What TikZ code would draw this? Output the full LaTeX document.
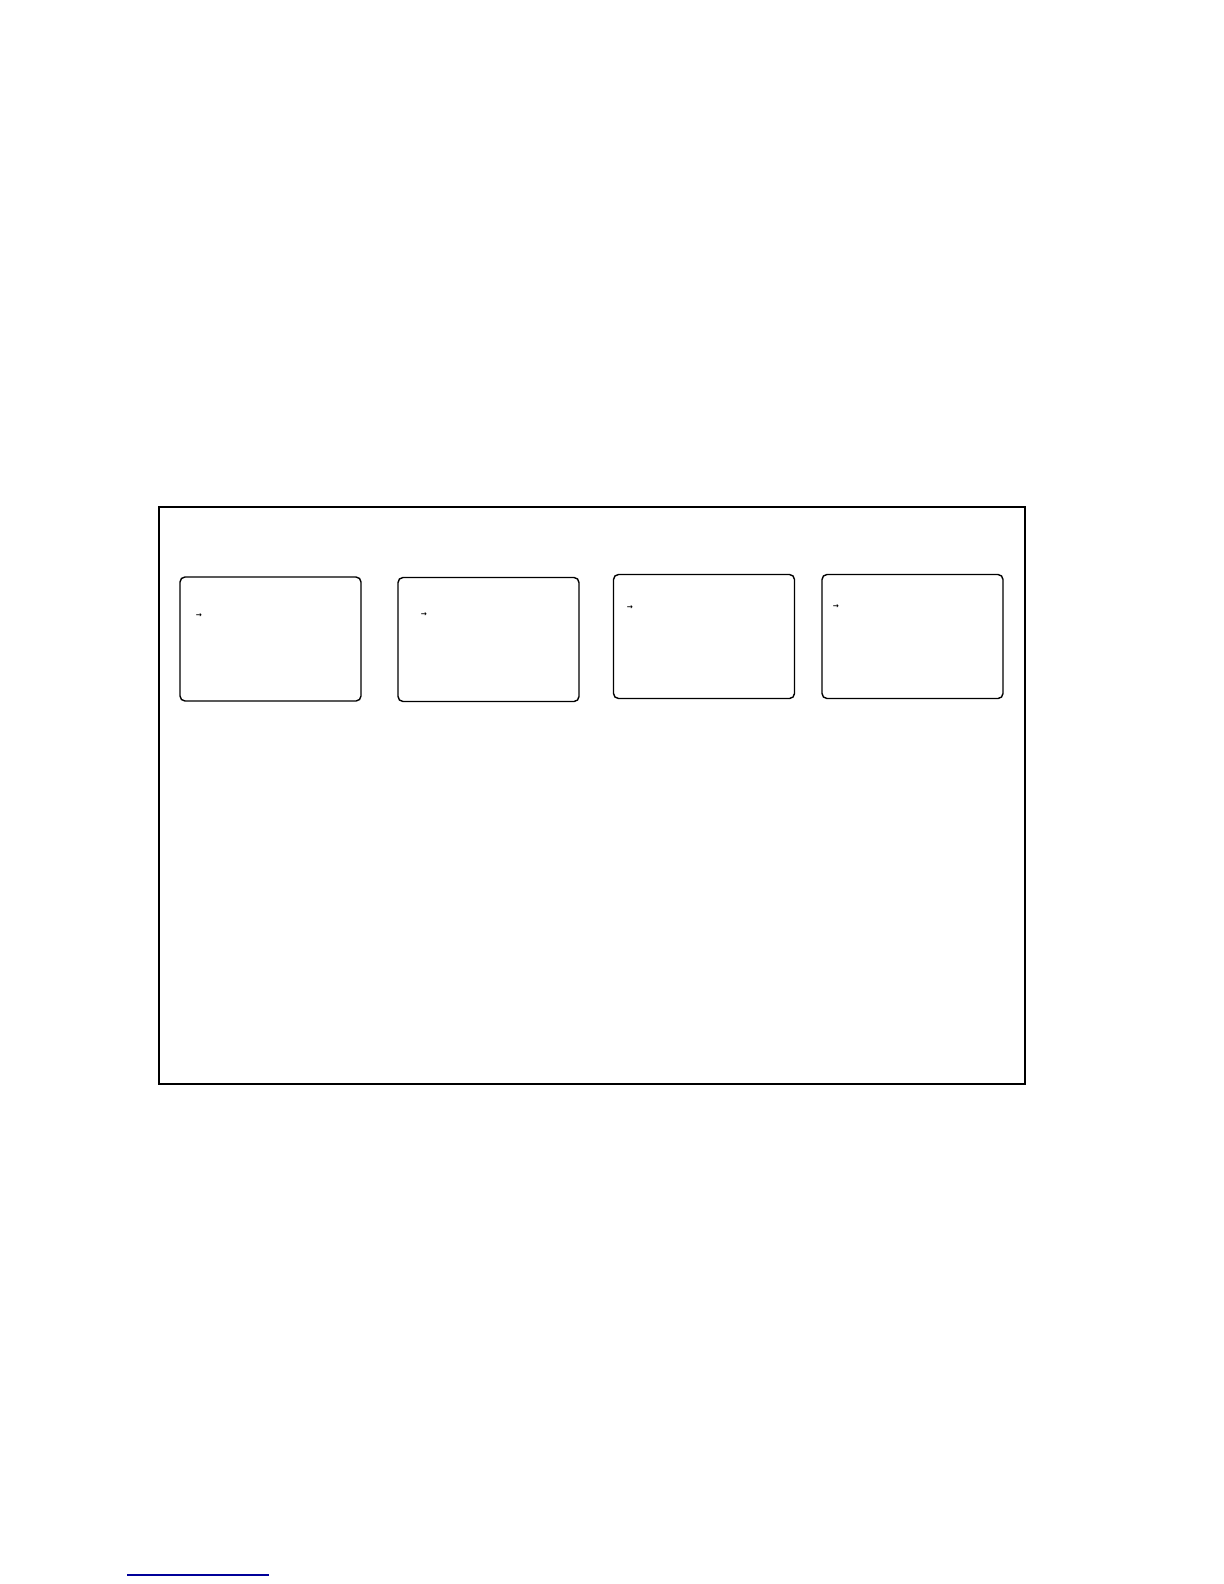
\documentclass[tikz,border=0pt]{standalone}
\usepackage{fontspec}
\newfontfamily\symfont{DejaVu Sans}
\usetikzlibrary{positioning}

\tikzset{
    screen/.style={draw, rounded corners=2.5pt, line width=0.7pt, minimum width=90.5pt, minimum height=62pt, inner sep=0pt},
    cursor/.style={inner sep=0pt, font=\symfont\bfseries\fontsize{3.6}{3.6}\selectfont}
}

\begin{document}
\begin{tikzpicture}[x=0.5pt, y=-0.5pt]
        \useasboundingbox (0, 0) rectangle (1224, 1584);

        \node[draw, line width=0.6pt, minimum width=433pt, minimum height=288.5pt, inner sep=0pt] at (592, 795.5)(frame){};

        \node[screen] at (270.5, 639)(s1){};
        \node[screen] at (488.5, 639.5)(s2){};
        \node[screen] at (704, 636.5)(s3){};
        \node[screen] at (912.5, 636.5)(s4){};

        \node[cursor] at (199, 616)(c1){→};
        \node[cursor] at (424, 615)(c2){→};
        \node[cursor] at (630, 608)(c3){→};
        \node[cursor] at (836, 606.5)(c4){→};

        \coordinate (la) at (127, 1575);
        \coordinate (lb) at (269, 1575);
        \draw[blue!60!black, line width=0.6pt] (la) -- (lb);
    \end{tikzpicture}
\end{document}
